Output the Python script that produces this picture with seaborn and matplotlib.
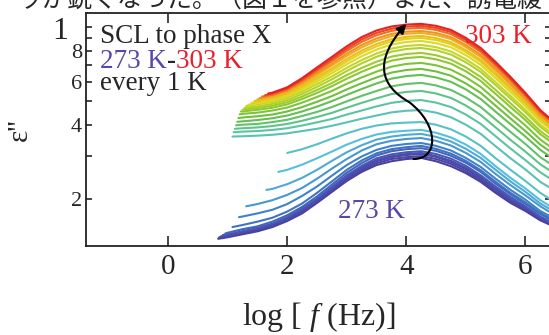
import numpy as np
import pandas as pd
import seaborn as sns
import matplotlib
matplotlib.use("Agg")
import matplotlib.pyplot as plt
from matplotlib.path import Path
from matplotlib.patches import FancyArrowPatch
from matplotlib.ticker import NullLocator
from matplotlib.transforms import blended_transform_factory

# temperatures, one spectrum each (273 K .. 303 K, every 1 K)
temps = list(range(273, 304))

# common log f grid; each spectrum uses its tail of it
grid_logf = [1.0, 1.25, 1.5, 1.75, 2.0, 2.25, 2.5, 2.75, 3.0, 3.25, 3.5, 3.75,
             4.0, 4.25, 4.5, 4.75, 5.0, 5.25, 5.5, 5.75, 6.0, 6.25, 6.5]

# lowest frequency of each spectrum (first value of every eps_ list sits here)
start_logf = [0.84, 0.85, 0.86, 0.88, 0.92, 0.96, 1.08, 1.19, 1.31, 1.65, 1.85, 2.00,
              1.08, 1.10, 1.12, 1.14, 1.16, 1.18, 1.20, 1.22, 1.25, 1.28, 1.31, 1.35,
              1.40, 1.45, 1.50, 1.54, 1.58, 1.63, 1.68]

eps_273 = [1.38, 1.40, 1.44, 1.48, 1.54, 1.63, 1.75, 1.93, 2.14, 2.37, 2.58, 2.75, 2.85, 2.91, 2.94, 2.85, 2.72, 2.55, 2.35, 2.12, 1.93, 1.79, 1.64, 1.54]
eps_274 = [1.39, 1.41, 1.45, 1.50, 1.55, 1.64, 1.77, 1.95, 2.17, 2.40, 2.62, 2.80, 2.91, 2.96, 2.99, 2.91, 2.78, 2.60, 2.39, 2.15, 1.96, 1.81, 1.66, 1.55]
eps_275 = [1.40, 1.42, 1.47, 1.51, 1.57, 1.66, 1.80, 1.98, 2.20, 2.44, 2.66, 2.85, 2.96, 3.02, 3.05, 2.97, 2.83, 2.65, 2.43, 2.19, 1.99, 1.84, 1.68, 1.57]
eps_276 = [1.41, 1.43, 1.48, 1.52, 1.58, 1.67, 1.81, 1.99, 2.22, 2.46, 2.69, 2.88, 2.99, 3.05, 3.08, 2.99, 2.86, 2.68, 2.46, 2.21, 2.00, 1.85, 1.68, 1.57]
eps_277 = [1.43, 1.44, 1.48, 1.53, 1.59, 1.69, 1.83, 2.01, 2.24, 2.50, 2.73, 2.93, 3.04, 3.10, 3.13, 3.05, 2.92, 2.73, 2.50, 2.25, 2.04, 1.87, 1.70, 1.58]
eps_278 = [1.45, 1.46, 1.51, 1.55, 1.62, 1.72, 1.86, 2.05, 2.29, 2.56, 2.80, 3.01, 3.13, 3.19, 3.22, 3.14, 3.00, 2.81, 2.58, 2.31, 2.09, 1.91, 1.74, 1.61]
eps_279 = [1.54, 1.57, 1.62, 1.68, 1.78, 1.92, 2.12, 2.36, 2.63, 2.87, 3.07, 3.19, 3.25, 3.29, 3.20, 3.06, 2.86, 2.62, 2.35, 2.12, 1.94, 1.76, 1.63]
eps_280 = [1.69, 1.70, 1.75, 1.81, 1.91, 2.06, 2.25, 2.49, 2.75, 2.98, 3.17, 3.29, 3.35, 3.38, 3.29, 3.15, 2.94, 2.70, 2.42, 2.18, 1.99, 1.79, 1.66]
eps_281 = [1.87, 1.91, 1.98, 2.08, 2.22, 2.42, 2.66, 2.91, 3.15, 3.34, 3.45, 3.51, 3.54, 3.45, 3.30, 3.08, 2.83, 2.53, 2.28, 2.07, 1.87, 1.72]
eps_282 = [2.18, 2.20, 2.30, 2.44, 2.63, 2.86, 3.10, 3.31, 3.49, 3.59, 3.65, 3.68, 3.58, 3.43, 3.20, 2.94, 2.63, 2.36, 2.14, 1.92, 1.77]
eps_283 = [2.58, 2.63, 2.76, 2.93, 3.12, 3.33, 3.51, 3.66, 3.75, 3.79, 3.82, 3.72, 3.56, 3.33, 3.05, 2.72, 2.44, 2.21, 1.98, 1.82]
eps_284 = [3.08, 3.19, 3.34, 3.52, 3.70, 3.86, 3.98, 4.06, 4.09, 4.11, 4.01, 3.84, 3.59, 3.29, 2.93, 2.63, 2.37, 2.12, 1.94]
eps_285 = [3.59, 3.60, 3.62, 3.65, 3.70, 3.78, 3.86, 3.97, 4.10, 4.24, 4.37, 4.50, 4.57, 4.60, 4.49, 4.30, 4.01, 3.68, 3.28, 2.93, 2.64, 2.35, 2.16]
eps_286 = [3.74, 3.76, 3.78, 3.82, 3.88, 3.98, 4.10, 4.23, 4.41, 4.58, 4.76, 4.92, 5.01, 5.05, 4.93, 4.73, 4.41, 4.04, 3.60, 3.21, 2.88, 2.57, 2.35]
eps_287 = [3.86, 3.88, 3.91, 3.96, 4.04, 4.16, 4.31, 4.48, 4.70, 4.92, 5.13, 5.34, 5.45, 5.50, 5.37, 5.15, 4.80, 4.39, 3.91, 3.48, 3.12, 2.77, 2.53]
eps_288 = [3.99, 4.01, 4.04, 4.11, 4.20, 4.35, 4.52, 4.73, 4.99, 5.25, 5.50, 5.74, 5.87, 5.93, 5.79, 5.55, 5.17, 4.73, 4.21, 3.75, 3.35, 2.96, 2.70]
eps_289 = [4.12, 4.14, 4.19, 4.26, 4.37, 4.54, 4.75, 5.00, 5.30, 5.60, 5.90, 6.17, 6.32, 6.39, 6.24, 5.99, 5.58, 5.10, 4.53, 4.03, 3.59, 3.17, 2.88]
eps_290 = [4.27, 4.29, 4.34, 4.41, 4.54, 4.73, 4.97, 5.24, 5.58, 5.91, 6.24, 6.53, 6.69, 6.76, 6.60, 6.34, 5.90, 5.40, 4.79, 4.25, 3.78, 3.33, 3.02]
eps_291 = [4.42, 4.44, 4.49, 4.58, 4.71, 4.93, 5.20, 5.50, 5.88, 6.24, 6.59, 6.90, 7.08, 7.15, 6.99, 6.71, 6.25, 5.71, 5.06, 4.48, 3.98, 3.49, 3.16]
eps_292 = [4.54, 4.54, 4.61, 4.70, 4.85, 5.10, 5.40, 5.75, 6.17, 6.58, 6.96, 7.30, 7.48, 7.56, 7.39, 7.10, 6.61, 6.04, 5.35, 4.73, 4.19, 3.67, 3.32]
eps_293 = [4.61, 4.69, 4.79, 4.95, 5.22, 5.55, 5.92, 6.38, 6.82, 7.23, 7.58, 7.77, 7.85, 7.68, 7.37, 6.86, 6.27, 5.55, 4.90, 4.32, 3.78, 3.41]
eps_294 = [4.69, 4.76, 4.87, 5.05, 5.35, 5.71, 6.13, 6.63, 7.12, 7.57, 7.94, 8.14, 8.22, 8.05, 7.73, 7.19, 6.57, 5.81, 5.12, 4.51, 3.93, 3.54]
eps_295 = [4.78, 4.85, 4.96, 5.15, 5.47, 5.86, 6.30, 6.83, 7.34, 7.80, 8.17, 8.38, 8.46, 8.28, 7.96, 7.40, 6.76, 5.97, 5.25, 4.61, 4.01, 3.61]
eps_296 = [4.84, 4.90, 5.03, 5.23, 5.58, 6.00, 6.49, 7.06, 7.61, 8.10, 8.49, 8.70, 8.78, 8.60, 8.27, 7.69, 7.01, 6.19, 5.44, 4.77, 4.14, 3.71]
eps_297 = [4.92, 4.96, 5.09, 5.30, 5.68, 6.13, 6.65, 7.25, 7.84, 8.34, 8.74, 8.95, 9.03, 8.85, 8.51, 7.91, 7.21, 6.36, 5.58, 4.88, 4.22, 3.78]
eps_298 = [5.01, 5.03, 5.16, 5.38, 5.77, 6.25, 6.79, 7.42, 8.02, 8.53, 8.92, 9.12, 9.20, 9.02, 8.67, 8.06, 7.35, 6.48, 5.67, 4.94, 4.27, 3.82]
eps_299 = [5.09, 5.23, 5.46, 5.88, 6.39, 6.97, 7.63, 8.26, 8.79, 9.18, 9.39, 9.46, 9.28, 8.93, 8.29, 7.56, 6.66, 5.82, 5.06, 4.36, 3.89]
eps_300 = [5.15, 5.28, 5.52, 5.96, 6.50, 7.10, 7.79, 8.45, 8.99, 9.37, 9.57, 9.64, 9.46, 9.10, 8.45, 7.70, 6.78, 5.91, 5.13, 4.41, 3.92]
eps_301 = [5.22, 5.32, 5.58, 6.04, 6.63, 7.27, 8.00, 8.70, 9.26, 9.64, 9.85, 9.92, 9.73, 9.36, 8.69, 7.92, 6.96, 6.07, 5.25, 4.50, 4.00]
eps_302 = [5.29, 5.37, 5.63, 6.12, 6.74, 7.41, 8.17, 8.90, 9.47, 9.84, 10.04, 10.11, 9.92, 9.55, 8.86, 8.07, 7.09, 6.17, 5.32, 4.55, 4.04]
eps_303 = [5.37, 5.41, 5.69, 6.20, 6.85, 7.56, 8.35, 9.10, 9.68, 10.05, 10.23, 10.30, 10.11, 9.73, 9.03, 8.22, 7.21, 6.27, 5.40, 4.60, 4.07]

spectra = [eps_273, eps_274, eps_275, eps_276, eps_277, eps_278, eps_279, eps_280,
           eps_281, eps_282, eps_283, eps_284, eps_285, eps_286, eps_287, eps_288,
           eps_289, eps_290, eps_291, eps_292, eps_293, eps_294, eps_295, eps_296,
           eps_297, eps_298, eps_299, eps_300, eps_301, eps_302, eps_303]

# long table for seaborn
frames = []
for T, x0, eps in zip(temps, start_logf, spectra):
    xs = [x0] + grid_logf[len(grid_logf) - (len(eps) - 1):]
    frames.append(pd.DataFrame({"logf": xs, "eps": eps, "T": str(T)}))
df = pd.concat(frames, ignore_index=True)

sns.set_style("ticks")
plt.rcParams["font.family"] = ["Liberation Serif", "DejaVu Serif"]
plt.rcParams["mathtext.fontset"] = "custom"
plt.rcParams["mathtext.rm"] = "Liberation Serif"
plt.rcParams["mathtext.it"] = "Liberation Serif:italic"

stops = ["#4b3f9e", "#4a4fae", "#3e7cc8", "#55c0dc", "#5dc49a", "#68be40",
         "#9ccc2e", "#e0dc22", "#f2a21e", "#e62024"]
colors = sns.blend_palette(stops, n_colors=len(temps))

fig = plt.figure(figsize=(5.49, 3.35), dpi=100)
ax = fig.add_axes([86/549, 1-246/335, 465/549, 233/335])
sns.lineplot(data=df, x="logf", y="eps", hue="T", hue_order=[str(t) for t in temps],
             palette=colors, legend=False, sort=False, estimator=None, lw=1.5, ax=ax)
ax.set_yscale("log")
ax.set_xlim(-1.38, 6.43)
ax.set_ylim(1.29, 11.4)

ax.set_xticks([0, 2, 4, 6])
ax.set_yticks([2, 3, 4, 5, 6, 7, 8, 9, 10])
ax.set_yticklabels(["2", "", "4", "", "6", "", "8", "", ""])
ax.yaxis.set_minor_locator(NullLocator())
ax.xaxis.set_minor_locator(NullLocator())
ax.tick_params(axis="x", direction="in", top=True, length=7, width=1.2, labelsize=21, pad=6)
ax.tick_params(axis="y", direction="in", right=True, length=4.5, width=1.2, labelsize=16, pad=3)
for sp in ax.spines.values():
    sp.set_linewidth(1.3)
    sp.set_color("#222222")
# the top label of the y axis is a larger "1", set a bit further out
tr = blended_transform_factory(ax.transAxes, ax.transData)
ax.text(-0.039, 9.6, "1", transform=tr, ha="right", va="center", fontsize=23)

ax.set_xlabel(r"log [ $f$ (Hz)]", fontsize=23)
ax.xaxis.set_label_coords(0.5, -0.23)
ax.set_ylabel("ε''", fontsize=21)
ax.yaxis.set_label_coords(-0.114, 0.5)

fs = 19.5
ax.text(0.030, 0.871, "SCL to phase X", transform=ax.transAxes, fontsize=fs)
t1 = ax.text(0.030, 0.764, "273 K", transform=ax.transAxes, fontsize=fs, color="#5548a8")
t2 = ax.annotate("-", xy=(1, 0), xycoords=t1, va="bottom", fontsize=fs, fontweight="bold")
ax.annotate("303 K", xy=(1, 0), xycoords=t2, va="bottom", fontsize=fs, color="#e8202a")
ax.text(0.030, 0.670, "every 1 K", transform=ax.transAxes, fontsize=fs)
ax.text(0.815, 0.871, "303 K", transform=ax.transAxes, fontsize=fs, color="#e8202a")
ax.text(0.542, 0.120, "273 K", transform=ax.transAxes, fontsize=fs, color="#5548a8")

# S-shaped arrow from the 273 K peak up to the 303 K peak, drawn over the spectra
verts = [(4.12, 2.91), (4.55, 2.91), (4.55, 4.0), (4.05, 4.95),
         (3.55, 5.8), (3.45, 7.3), (4.0, 10.3)]
codes = [Path.MOVETO] + [Path.CURVE4] * 6
ax.add_patch(FancyArrowPatch(path=Path(verts, codes), arrowstyle="-|>",
                             mutation_scale=14, lw=1.5, color="k", zorder=5))

# line of the surrounding page text, cut by the top edge
fig.text(18/549, 1-7/335, "ッが鋭くなった。（図１を参照）また、誘電緩",
         fontsize=18, family=["Noto Sans CJK JP"], va="baseline")

fig.savefig("out.png", dpi=100)
